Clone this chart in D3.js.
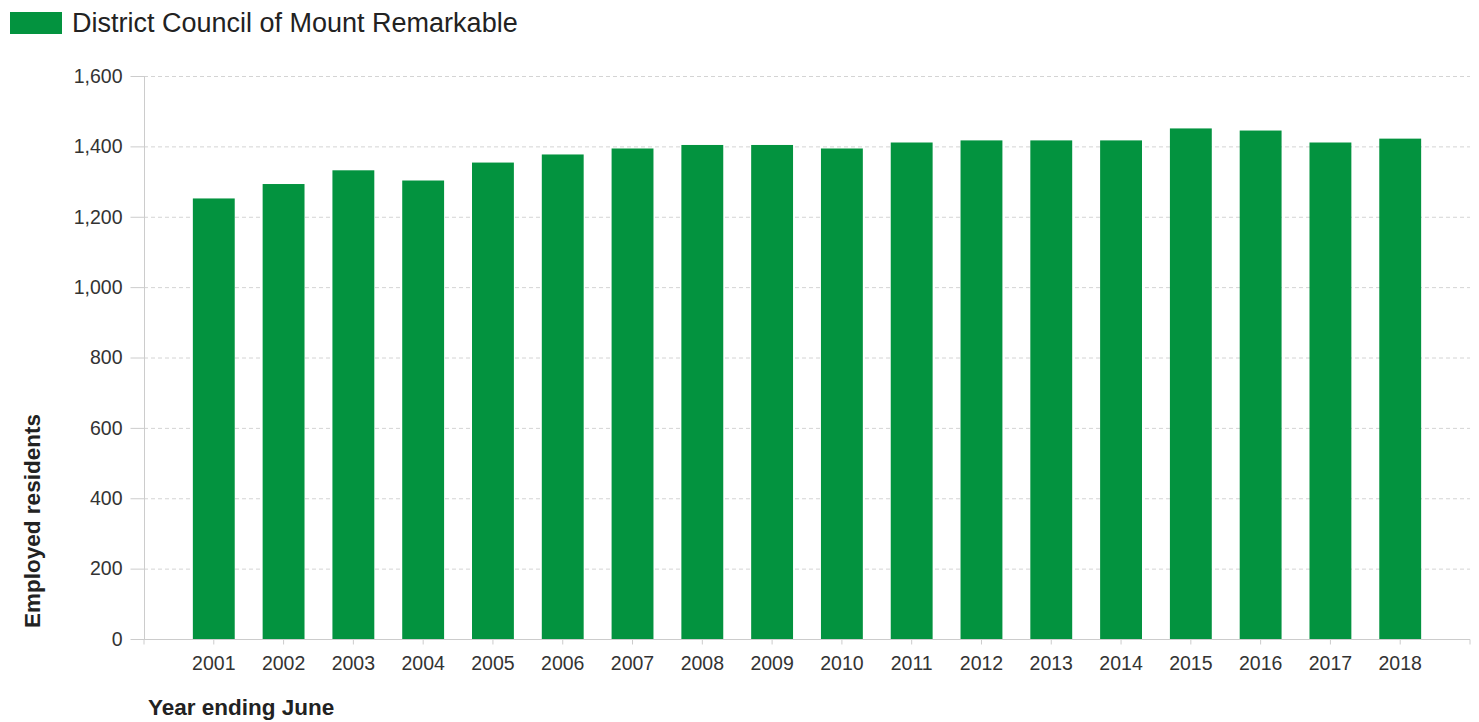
<!DOCTYPE html>
<html>
<head>
<meta charset="utf-8">
<script src="https://cdn.jsdelivr.net/npm/d3@7"></script>
<style>
  html, body { margin: 0; padding: 0; background: #fff; }
  svg { display: block; font-family: Arial, "Liberation Sans", sans-serif; }
</style>
</head>
<body>
<svg id="chart" width="1479" height="722"></svg>
<script>
const years = ["2001","2002","2003","2004","2005","2006","2007","2008","2009","2010","2011","2012","2013","2014","2015","2016","2017","2018"];
const employed = [1252,1293,1332,1303,1354,1377,1394,1404,1404,1394,1411,1417,1417,1417,1451,1445,1411,1422];
const yTicks = [0,200,400,600,800,1000,1200,1400,1600];
const seriesName = "District Council of Mount Remarkable";
const xTitle = "Year ending June";
const yTitle = "Employed residents";

(function () {
const svg = d3.select("#chart");
const plotLeft = 144, plotRight = 1470, plotTop = 76, plotBottom = 639;
const green = "#03933f";
const axisGray = "#cccccc";
const font = "Arial, 'Liberation Sans', sans-serif";

const x = d3.scaleBand().domain(years).range([plotLeft, plotRight]).paddingInner(0.4).paddingOuter(0.7);
const y = d3.scaleLinear().domain([0, 1600]).range([plotBottom, plotTop]);

// gridlines
svg.append("g").selectAll("line").data(yTicks.filter(d => d > 0)).join("line")
  .attr("x1", plotLeft).attr("x2", plotRight)
  .attr("y1", d => y(d) + 0.5).attr("y2", d => y(d) + 0.5)
  .attr("stroke", "#d4d4d4").attr("stroke-dasharray", "4,3").attr("stroke-width", 1);

// bars
svg.append("g").selectAll("rect").data(years).join("rect")
  .attr("x", d => x(d))
  .attr("width", x.bandwidth())
  .attr("y", (d, i) => y(employed[i]))
  .attr("height", (d, i) => y(0) - y(employed[i]))
  .attr("fill", green);

// y axis
const yAxis = d3.axisLeft(y).tickValues(yTicks).tickSize(14).tickPadding(8).tickFormat(d3.format(","));
const gy = svg.append("g").attr("transform", `translate(${plotLeft + 0.5},0)`).call(yAxis);
gy.select(".domain").attr("stroke", axisGray).attr("d", `M0,${plotTop}V${plotBottom}`);
gy.selectAll(".tick line").attr("stroke", axisGray);
gy.selectAll(".tick text").attr("fill", "#333").style("font-size", "19.5px").style("font-family", font);

// x axis
const xAxis = d3.axisBottom(x).tickSize(5).tickPadding(12);
const gx = svg.append("g").attr("transform", `translate(0,${plotBottom + 0.5})`).call(xAxis);
gx.select(".domain").attr("stroke", axisGray).attr("d", `M${plotLeft},0H${plotRight}`);
gx.selectAll(".tick line").attr("stroke", axisGray);
gx.selectAll(".tick text").attr("fill", "#333").style("font-size", "19.5px").style("font-family", font);
[plotLeft, plotRight].forEach(px => gx.append("line").attr("x1", px).attr("x2", px).attr("y1", 0).attr("y2", 5).attr("stroke", axisGray));

// axis titles
svg.append("text").attr("x", 148).attr("y", 715)
  .attr("fill", "#222").style("font-size", "22.5px").style("font-weight", "bold").style("font-family", font).text(xTitle);
svg.append("text").attr("transform", "translate(40,521) rotate(-90)")
  .attr("text-anchor", "middle")
  .attr("fill", "#222").style("font-size", "22.5px").style("font-weight", "bold").style("font-family", font).text(yTitle);

// legend
svg.append("rect").attr("x", 10).attr("y", 12).attr("width", 52).attr("height", 22).attr("fill", green);
svg.append("text").attr("x", 72).attr("y", 32).attr("fill", "#222").style("font-size", "27px").style("font-family", font).text(seriesName);
})();
</script>
</body>
</html>
